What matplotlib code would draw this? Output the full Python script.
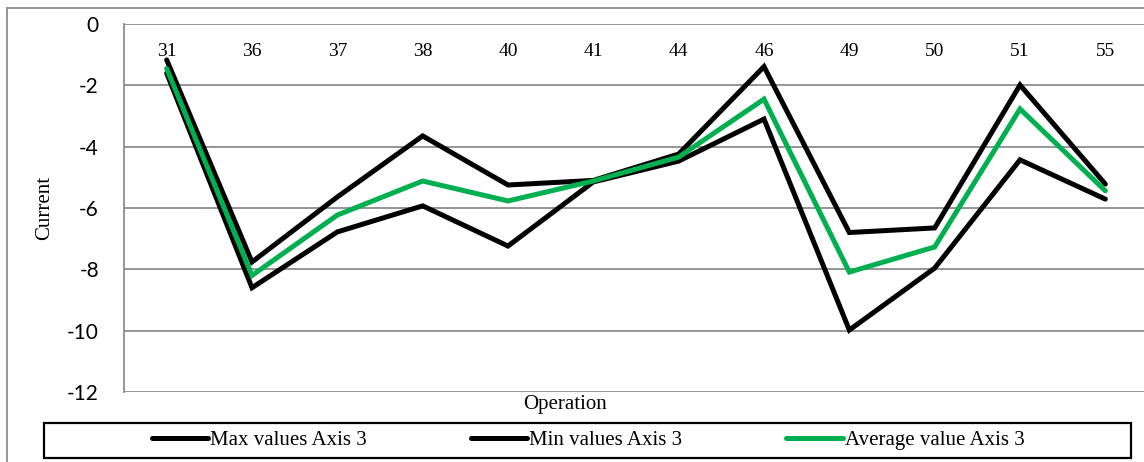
import matplotlib
matplotlib.use("Agg")
import matplotlib.pyplot as plt
from matplotlib.patches import Rectangle
from matplotlib.lines import Line2D

operations = ["31", "36", "37", "38", "40", "41", "44", "46", "49", "50", "51", "55"]
max_values = [-1.17, -7.76, -5.64, -3.65, -5.25, -5.10, -4.24, -1.39, -6.80, -6.65, -1.99, -5.22]
min_values = [-1.60, -8.60, -6.78, -5.93, -7.24, -5.15, -4.47, -3.10, -9.98, -7.96, -4.43, -5.71]
avg_values = [-1.45, -8.20, -6.23, -5.12, -5.77, -5.12, -4.34, -2.45, -8.09, -7.27, -2.77, -5.44]
y_ticks = [0, -2, -4, -6, -8, -10, -12]

W, H = 1144, 462
fig = plt.figure(figsize=(W / 100, H / 100), dpi=100)

def fx(px):
    return px / W

def fy(py):
    return 1 - py / H

# outer chart border (gray)
fig.add_artist(Line2D([fx(7), fx(7)], [0, fy(8)], color="#8c8c8c", lw=1.3, transform=fig.transFigure))
fig.add_artist(Line2D([fx(7), 1], [fy(8), fy(8)], color="#8c8c8c", lw=1.3, transform=fig.transFigure))

ax = fig.add_axes([fx(124), fy(392), (1148 - 124) / W, (392 - 24) / H])
x = list(range(len(operations)))

ax.plot(x, max_values, color="black", lw=3.6, solid_capstyle="round", solid_joinstyle="miter", label="Max values Axis 3", zorder=3)
ax.plot(x, min_values, color="black", lw=3.6, solid_capstyle="round", solid_joinstyle="miter", label="Min values Axis 3", zorder=3)
ax.plot(x, avg_values, color="#00B050", lw=3.6, solid_capstyle="round", solid_joinstyle="miter", label="Average value Axis 3", zorder=4)

ax.set_xlim(-0.5, len(operations) - 0.5)
ax.set_ylim(-12, 0)
ax.set_yticks(y_ticks)
ax.set_yticklabels([str(v) for v in y_ticks], fontfamily="Lato", fontsize=15)
ax.tick_params(axis="y", length=0, pad=18)
ax.grid(axis="y", color="#8c8c8c", lw=1.3)
ax.set_axisbelow(True)

ax.xaxis.tick_top()
ax.set_xticks(x)
ax.set_xticklabels(operations, fontfamily="Liberation Serif", fontsize=14)
ax.tick_params(axis="x", length=0, pad=-26)

for s in ["top", "right", "bottom"]:
    ax.spines[s].set_visible(False)
ax.spines["left"].set_color("#8c8c8c")
ax.spines["left"].set_linewidth(1.3)

fig.text(fx(45), fy(208), "Current", rotation=90, ha="center", va="center",
         fontfamily="Liberation Serif", fontsize=15)
fig.text(fx(565), fy(405), "Operation", ha="center", va="center",
         fontfamily="Liberation Serif", fontsize=15)

# legend box
fig.add_artist(Rectangle((fx(44), fy(458)), fx(1131) - fx(44), fy(423) - fy(458),
                         fill=False, edgecolor="black", lw=1.6, transform=fig.transFigure))
handles, labels = ax.get_legend_handles_labels()
leg = fig.legend(handles, labels, ncol=3, loc="center", bbox_to_anchor=(fx(588), fy(440.5)),
                 frameon=False, prop={"family": "Liberation Serif", "size": 15},
                 handlelength=2.7, handletextpad=0.1, columnspacing=5.0)

fig.savefig("out.png", dpi=100)
